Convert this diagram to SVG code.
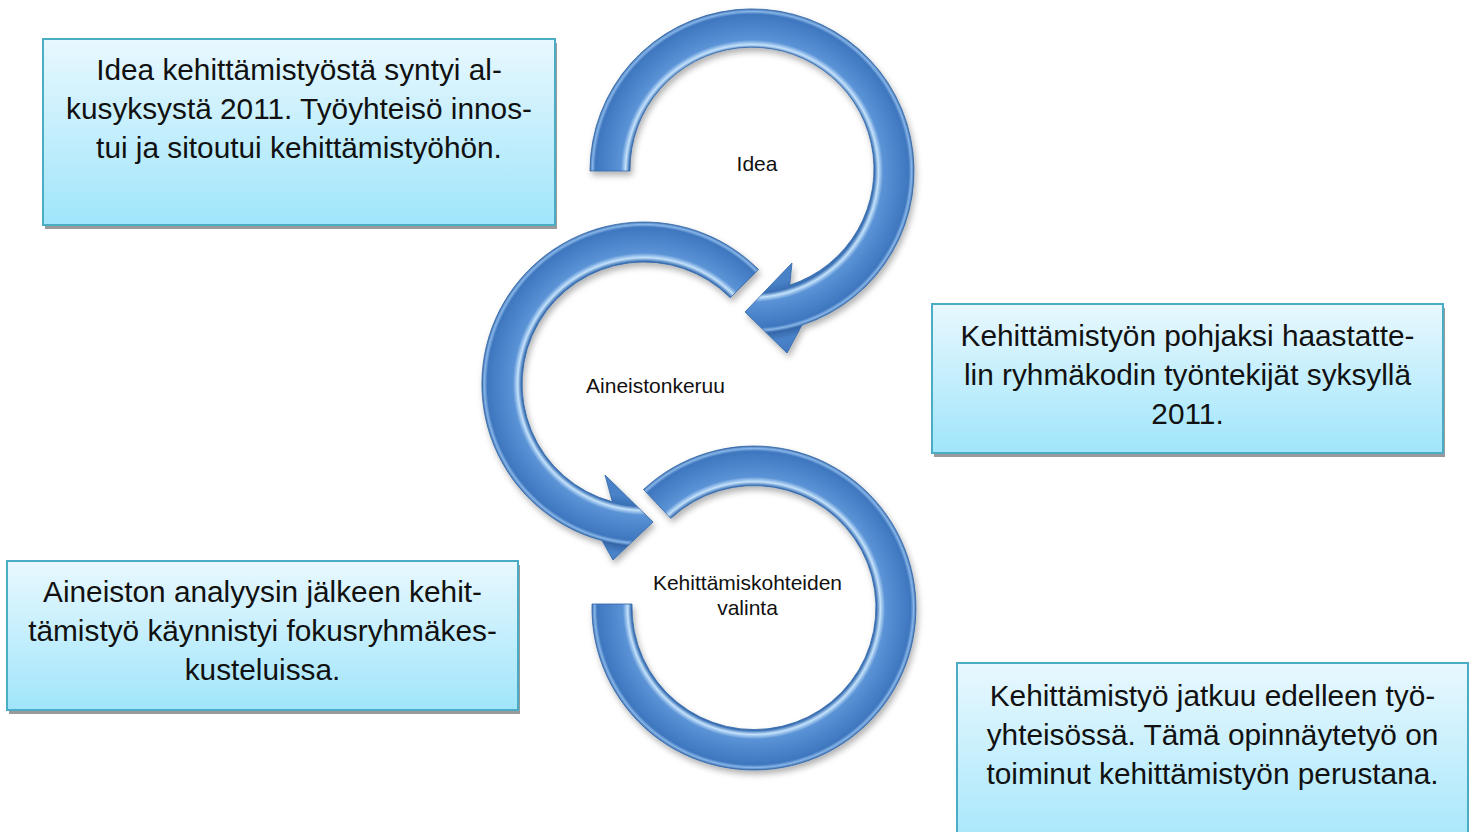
<svg xmlns="http://www.w3.org/2000/svg" width="1475" height="832" viewBox="0 0 1475 832">
<defs>
<style>
.box{stroke:#4bacc6;stroke-width:2;fill:url(#boxg)}
.shadow{fill:#9a9a9a}
.bt{font-family:"Liberation Sans",Arial,sans-serif;font-size:29.8px;fill:#111;text-anchor:middle}
.ct{font-family:"Liberation Sans",Arial,sans-serif;font-size:21px;fill:#111;text-anchor:middle}
.arr{stroke:#2e64a6;stroke-width:0.8;filter:url(#ds)}
</style>
<linearGradient id="boxg" x1="0" y1="0" x2="0" y2="1">
<stop offset="0" stop-color="#e8f8fe"/>
<stop offset="1" stop-color="#a0e5fb"/>
</linearGradient>
<filter id="ds" x="-20%" y="-20%" width="140%" height="140%">
<feDropShadow dx="2" dy="4" stdDeviation="3" flood-color="#000" flood-opacity="0.3"/>
</filter>
<radialGradient id="g1" gradientUnits="userSpaceOnUse" cx="752" cy="171" r="190">
<stop offset="0" stop-color="#3d74bb"/>
<stop offset="0.6" stop-color="#4a82c9"/>
<stop offset="0.645" stop-color="#3a70b5"/>
<stop offset="0.665" stop-color="#c4e2fb"/>
<stop offset="0.69" stop-color="#5b93d6"/>
<stop offset="0.77" stop-color="#4a82c9"/>
<stop offset="0.825" stop-color="#3f77bf"/>
<stop offset="0.84" stop-color="#86b5e8"/>
<stop offset="0.855" stop-color="#3466a8"/>
<stop offset="0.9" stop-color="#4a82c9"/>
<stop offset="1" stop-color="#3d74bb"/>
</radialGradient>
<radialGradient id="g2" href="#g1" cx="644" cy="384"/>
<radialGradient id="g3" href="#g1" cx="754" cy="608"/>
</defs>

<g id="box1">
<rect class="shadow" x="45" y="43" width="512" height="186"/>
<rect class="box" x="43" y="39" width="512" height="186"/>
<text class="bt" x="299" y="80">Idea kehittämistyöstä syntyi al-</text>
<text class="bt" x="299" y="119">kusyksystä 2011. Työyhteisö innos-</text>
<text class="bt" x="299" y="158">tui ja sitoutui kehittämistyöhön.</text>
</g>

<g id="box2">
<rect class="shadow" x="934" y="308" width="511" height="149"/>
<rect class="box" x="932" y="304" width="511" height="149"/>
<text class="bt" x="1187.5" y="346">Kehittämistyön pohjaksi haastatte-</text>
<text class="bt" x="1187.5" y="385">lin ryhmäkodin työntekijät syksyllä</text>
<text class="bt" x="1187.5" y="424">2011.</text>
</g>

<g id="box3">
<rect class="shadow" x="9" y="565" width="511" height="149"/>
<rect class="box" x="7" y="561" width="511" height="149"/>
<text class="bt" x="262.5" y="602">Aineiston analyysin jälkeen kehit-</text>
<text class="bt" x="262.5" y="641">tämistyö käynnistyi fokusryhmäkes-</text>
<text class="bt" x="262.5" y="680">kusteluissa.</text>
</g>

<g id="box4">
<rect class="box" x="957" y="663" width="511" height="200"/>
<text class="bt" x="1212.5" y="706">Kehittämistyö jatkuu edelleen työ-</text>
<text class="bt" x="1212.5" y="745">yhteisössä. Tämä opinnäytetyö on</text>
<text class="bt" x="1212.5" y="784">toiminut kehittämistyön perustana.</text>
</g>

<g id="connectors">
<path id="arrow-idea" class="arr" fill="url(#g1)" d="M 590 171 A 162 162 0 1 1 802 325 L 787 353 L 745 312 L 792 263 L 789.7 285.2 A 122 122 0 1 0 630 171 Z"/>
<path id="arrow-aineisto" class="arr" fill="url(#g2)" d="M 758.5 269.5 A 162 162 0 1 0 602 540.5 L 613 560 L 653 522 L 605 475 L 612.4 501.8 A 122 122 0 1 1 730.3 297.7 Z"/>
<path id="arrow-valinta" class="arr" fill="url(#g3)" d="M 592 604 A 162 162 0 1 0 643.5 489.5 L 670.8 518.3 A 122 122 0 1 1 632 604 Z"/>
</g>

<g id="node-idea"><text class="ct" x="757" y="171">Idea</text></g>
<g id="node-aineisto"><text class="ct" x="655.5" y="393">Aineistonkeruu</text></g>
<g id="node-valinta">
<text class="ct" x="747.5" y="590">Kehittämiskohteiden</text>
<text class="ct" x="747.5" y="615">valinta</text>
</g>
</svg>
